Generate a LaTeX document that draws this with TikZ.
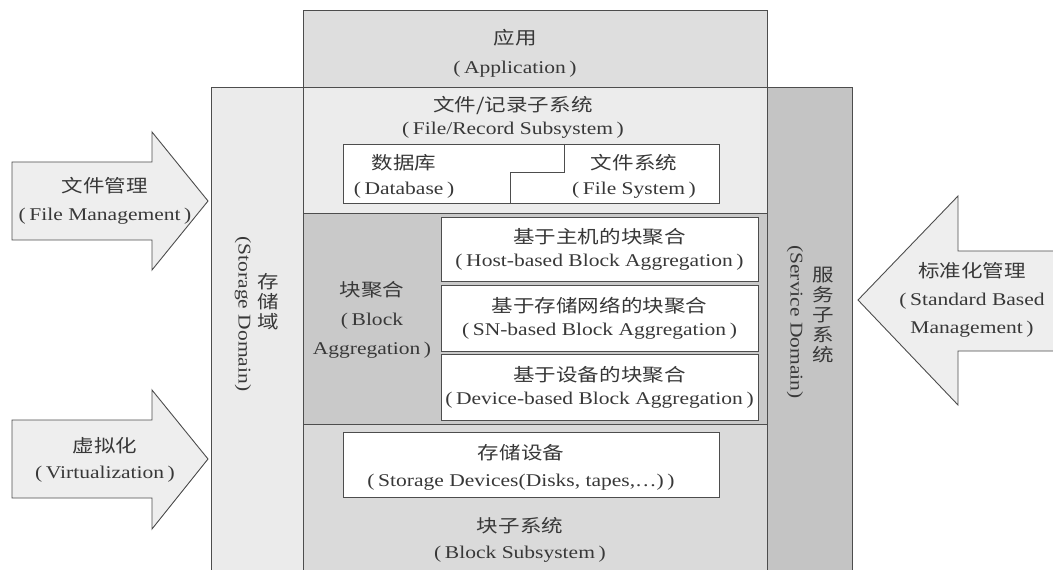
\documentclass[tikz,border=0pt]{standalone}
\usepackage{fontspec}
\setmainfont{Liberation Serif}[FakeStretch=1.2]
\newfontfamily\cjk{Noto Sans CJK SC}[FakeStretch=1.2]
\newcommand\zlp{(\kern0.2em}
\newcommand\zrp{\kern0.2em)}
\definecolor{linec}{HTML}{4D4D4D}
\definecolor{textc}{HTML}{383838}
\definecolor{appc}{HTML}{DEDEDE}
\definecolor{sdomc}{HTML}{EBEBEB}
\definecolor{filec}{HTML}{ECECEC}
\definecolor{aggc}{HTML}{C9C9C9}
\definecolor{blkc}{HTML}{DADADA}
\definecolor{svcc}{HTML}{C4C4C4}
\definecolor{arrc}{HTML}{EEEEEE}
\tikzset{
  region/.style={draw=linec, line width=0.9pt},
  whitebox/.style={draw=linec, line width=0.9pt, fill=white},
  bigarrow/.style={draw=linec, line width=0.9pt, fill=arrc, line join=miter},
  txt/.style={align=center, text=textc, inner sep=0pt, font=\fontsize{18}{23}\selectfont},
  vtxt/.style={align=center, text=textc, inner sep=0pt, font=\fontsize{18}{20}\selectfont},
}
\begin{document}
\begin{tikzpicture}[x=1bp,y=-1bp]
\useasboundingbox (0,0) rectangle (1053,570);
\clip (0,0) rectangle (1053,570);
\fill[white] (0,0) rectangle (1053,570);

% regions
\draw[region, fill=sdomc] (211,87) rectangle (852,580);
\draw[region, fill=svcc] (767,87) rectangle (852,580);
\draw[region, fill=appc] (303,10) rectangle (767,87);
\draw[region, fill=filec] (303,87) rectangle (767,213);
\draw[region, fill=aggc] (303,213) rectangle (767,424);
\draw[region, fill=blkc] (303,424) rectangle (767,580);

% application
\node[txt, font=\fontsize{18}{29}\selectfont] (app) at (515,53) {{\cjk 应用}\\\zlp Application\zrp};

% file/record subsystem
\node[txt] (frs) at (513,117) {{\cjk 文件/记录子系统}\\\zlp File/Record Subsystem\zrp};
\draw[whitebox] (343,144) rectangle (719,203);
\coordinate (s1) at (564,144);
\coordinate (s2) at (564,172);
\coordinate (s3) at (510,172);
\coordinate (s4) at (510,203);
\draw[region] (s1) -- (s2) -- (s3) -- (s4);
\node[txt, font=\fontsize{18}{25}\selectfont] (db) at (404,176) {{\cjk 数据库}\\\zlp Database\zrp};
\node[txt, font=\fontsize{18}{25}\selectfont] (fs) at (634,176) {{\cjk 文件系统}\\\zlp File System\zrp};

% block aggregation
\node[txt, font=\fontsize{18}{29}\selectfont] (agg) at (372,320) {{\cjk 块聚合}\\\zlp Block\\Aggregation\zrp};
\node[whitebox, minimum width=317bp, minimum height=64bp, inner sep=0pt] (hb) at (599.5,249) {};
\node[whitebox, minimum width=317bp, minimum height=66bp, inner sep=0pt] (sn) at (599.5,318) {};
\node[whitebox, minimum width=317bp, minimum height=66bp, inner sep=0pt] (dv) at (599.5,387) {};
\node[txt] (hbt) at (hb.center) {{\cjk 基于主机的块聚合}\\\zlp Host-based Block Aggregation\zrp};
\node[txt] (snt) at (sn.center) {{\cjk 基于存储网络的块聚合}\\\zlp SN-based Block Aggregation\zrp};
\node[txt] (dvt) at (dv.center) {{\cjk 基于设备的块聚合}\\\zlp Device-based Block Aggregation\zrp};

% block subsystem
\draw[whitebox] (343,432) rectangle (719,497);
\node[txt, font=\fontsize{18}{27}\selectfont] (sd) at (521,467) {{\cjk 存储设备}\\\zlp Storage Devices(Disks, tapes,\dots)\zrp};
\node[txt, font=\fontsize{18}{26}\selectfont] (bs) at (520,540) {{\cjk 块子系统}\\\zlp Block Subsystem\zrp};

% storage domain text
\node[txt, rotate=-90] (sdomE) at (243,314) {(Storage Domain)};
\node[vtxt] (sdomC) at (268,302) {\cjk 存\\\cjk 储\\\cjk 域};

% service domain text
\node[txt, rotate=-90] (svcE) at (795,322) {(Service Domain)};
\node[vtxt] (svcC) at (823,315) {\cjk 服\\\cjk 务\\\cjk 子\\\cjk 系\\\cjk 统};

% arrows
\draw[bigarrow] (12,162) -- (152,162) -- (152,132) -- (208,201) -- (152,270) -- (152,240) -- (12,240) -- cycle;
\node[txt, font=\fontsize{18}{28}\selectfont] (fm) at (105,201) {{\cjk 文件管理}\\\zlp File Management\zrp};

\draw[bigarrow] (12,420) -- (152,420) -- (152,390) -- (208,459) -- (152,529) -- (152,498) -- (12,498) -- cycle;
\node[txt, font=\fontsize{18}{26}\selectfont] (vz) at (105,460) {{\cjk 虚拟化}\\\zlp Virtualization\zrp};

\draw[bigarrow] (1060,251) -- (958,251) -- (958,196) -- (858,300) -- (958,405) -- (958,351) -- (1060,351) -- cycle;
\node[txt, font=\fontsize{18}{28}\selectfont] (sm) at (972,300) {{\cjk 标准化管理}\\\zlp Standard Based\\Management\zrp};
\end{tikzpicture}
\end{document}
